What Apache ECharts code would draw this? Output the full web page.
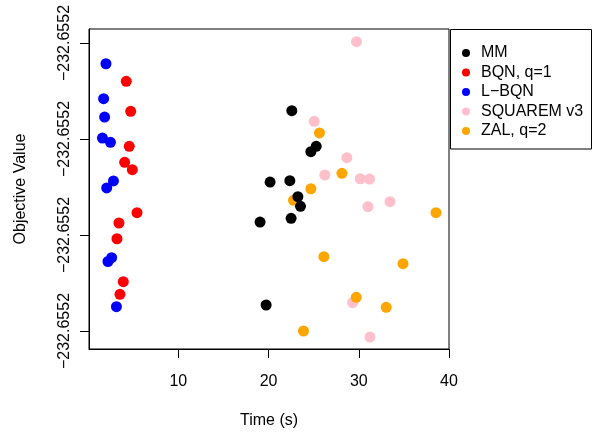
<!DOCTYPE html>
<html>
<head>
<meta charset="utf-8">
<script src="https://cdn.jsdelivr.net/npm/echarts@6/dist/echarts.min.js"></script>
<style>html,body{margin:0;padding:0;background:#fff}#c{width:594px;height:434px}</style>
</head>
<body>
<div id="c"></div>
<script>
// Series names (legend order)
const seriesNames = ["MM", "BQN, q=1", "L\u2212BQN", "SQUAREM v3", "ZAL, q=2"];
const seriesColors = ["#000000", "#FF0000", "#0000FF", "#FFC0CB", "#FFA500"];
// x = time (s); y = objective value offset (units between labelled ticks)
const mmX = [22.58, 25.28, 24.69, 20.17, 22.36, 23.25, 23.54, 22.50, 19.06, 19.73];
const mmY = [2.295, 1.924, 1.868, 1.552, 1.566, 1.399, 1.299, 1.174, 1.135, 0.271];
const bqnX = [4.23, 4.72, 4.56, 4.05, 4.90, 5.42, 3.42, 3.20, 3.90, 3.53];
const bqnY = [2.601, 2.289, 1.924, 1.757, 1.680, 1.232, 1.125, 0.961, 0.514, 0.382];
const lbqnX = [1.98, 1.72, 1.83, 1.59, 2.48, 2.81, 2.06, 2.61, 2.20, 3.14];
const lbqnY = [2.784, 2.420, 2.229, 2.010, 1.966, 1.563, 1.490, 0.764, 0.724, 0.253];
const sqX = [29.75, 25.06, 28.68, 26.24, 30.16, 31.19, 31.01, 33.46, 29.31, 31.24];
const sqY = [3.014, 2.184, 1.805, 1.625, 1.586, 1.583, 1.295, 1.347, 0.295, -0.063];
const zalX = [25.64, 28.13, 24.69, 22.76, 38.56, 26.13, 34.90, 29.72, 33.04, 23.87];
const zalY = [2.063, 1.643, 1.482, 1.361, 1.232, 0.774, 0.701, 0.351, 0.247, 0.000];
// axis ticks
const xTicks = [10, 20, 30, 40];
const yTicks = [0, 1, 2, 3];
const yTickLabels = ["\u2212232.6552", "\u2212232.6552", "\u2212232.6552", "\u2212232.6552"];

const zip = (xs, ys) => xs.map((x, i) => [x, ys[i]]);
const seriesData = [zip(mmX, mmY), zip(bqnX, bqnY), zip(lbqnX, lbqnY), zip(sqX, sqY), zip(zalX, zalY)];
const drawOrder = [1, 2, 3, 4, 0];
const FONT = "Liberation Sans, Arial, Helvetica, sans-serif";

const chart = echarts.init(document.getElementById('c'), null, {renderer: 'canvas'});
chart.setOption({
  animation: false,
  backgroundColor: '#ffffff',
  textStyle: {fontFamily: FONT},
  grid: {left: 89, right: 145, top: 29, bottom: 85, show: true, borderColor: '#000', borderWidth: 1, backgroundColor: 'transparent', outerBoundsMode: 'none', containLabel: false},
  xAxis: {
    type: 'value', min: 0.1, max: 40.0,
    name: 'Time (s)', nameLocation: 'middle', nameGap: 64,
    nameTextStyle: {fontSize: 16, color: '#000', fontFamily: FONT},
    axisLine: {show: true, onZero: false, lineStyle: {color: '#000', width: 1}},
    axisTick: {show: true, inside: false, length: 9, lineStyle: {color: '#000'}, customValues: xTicks},
    axisLabel: {show: true, fontSize: 16, color: '#000', margin: 25, fontFamily: FONT, customValues: xTicks},
    splitLine: {show: false}
  },
  yAxis: {
    type: 'value', min: -0.1875, max: 3.146,
    name: 'Objective Value', nameLocation: 'middle', nameGap: 60,
    nameTextStyle: {fontSize: 16, color: '#000', fontFamily: FONT},
    axisLine: {show: true, onZero: false, lineStyle: {color: '#000', width: 1}},
    axisTick: {show: true, inside: false, length: 9, lineStyle: {color: '#000'}, customValues: yTicks},
    axisLabel: {show: true, rotate: 90, fontSize: 16, color: '#000', margin: 16, fontFamily: FONT,
      customValues: yTicks,
      formatter: v => yTickLabels[yTicks.indexOf(Math.round(v))] || ''},
    splitLine: {show: false}
  },
  legend: {
    orient: 'vertical', left: 462, top: 45, padding: 0,
    itemWidth: 20, itemHeight: 8, itemGap: 3.5, icon: 'circle',
    textStyle: {fontSize: 16, color: '#000', lineHeight: 16, fontFamily: FONT},
    data: seriesNames
  },
  graphic: [{type: 'rect', silent: true, shape: {x: 450.5, y: 29.5, width: 141, height: 119.5},
    style: {fill: 'none', stroke: '#000', lineWidth: 1}}],
  series: drawOrder.map(i => ({
    name: seriesNames[i], type: 'scatter', symbol: 'circle', symbolSize: 11,
    itemStyle: {color: seriesColors[i], opacity: 1},
    data: seriesData[i]
  }))
});
</script>
</body>
</html>
